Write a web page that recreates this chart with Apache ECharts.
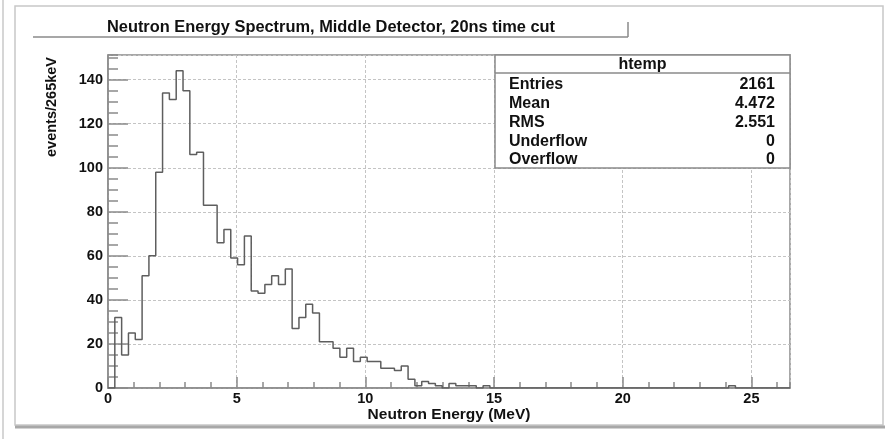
<!DOCTYPE html>
<html>
<head>
<meta charset="utf-8">
<script src="https://cdn.jsdelivr.net/npm/echarts@6/dist/echarts.min.js"></script>
<style>
html,body{margin:0;padding:0;background:#fff;}
#chart{width:887px;height:439px;}
</style>
</head>
<body>
<div id="chart"></div>
<script>
// ---- data ----
const chartTitle = 'Neutron Energy Spectrum, Middle Detector, 20ns time cut';
const xTitle = 'Neutron Energy (MeV)';
const yTitle = 'events/265keV';
const binWidth = 0.265;        // MeV per bin
const xMin = 0, xMax = 26.5;
const yMin = 0, yMax = 151.2;
const counts = [
  0, 32, 15, 25, 22, 51, 60, 98, 134, 131,
  144, 135, 106, 107, 83, 83, 66, 72, 59, 56,
  69, 44, 43, 47, 51, 47, 54, 27, 32, 38,
  34, 21, 21, 18, 14, 18, 12, 14, 12, 12,
  9, 9, 8, 10, 4, 1, 3, 2, 1, 0,
  2, 1, 1, 1, 0, 1, 0, 0, 0, 0,
  0, 0, 0, 0, 0, 0, 0, 0, 0, 0,
  0, 0, 0, 0, 0, 0, 0, 0, 0, 0,
  0, 0, 0, 0, 0, 0, 0, 0, 0, 0,
  0, 1, 0, 0, 0, 0, 0, 0, 0, 0
];
const statsName = 'htemp';
const statsLabels = ['Entries', 'Mean', 'RMS', 'Underflow', 'Overflow'];
const statsValues = ['2161', '4.472', '2.551', '0', '0'];

// ---- build step outline from bin edges ----
const stepData = counts.map((c, i) => [i * binWidth, c]);
stepData.push([counts.length * binWidth, counts[counts.length - 1]]);

const FONT = '"Liberation Sans", Arial, Helvetica, sans-serif';
const axisGray = '#8a8a8a';
const gridGray = '#c4c4c4';

const chart = echarts.init(document.getElementById('chart'), null, {renderer: 'canvas'});

// stats box graphics
const boxL = 495, boxR = 790, boxT = 55, boxB = 168, divY = 73;
const statsGraphics = [
  {type: 'rect', shape: {x: boxL, y: boxT, width: boxR - boxL, height: boxB - boxT},
   style: {fill: '#fff', stroke: '#8a8a8a', lineWidth: 1.5}, z: 100},
  {type: 'line', shape: {x1: boxL, y1: divY, x2: boxR, y2: divY},
   style: {stroke: '#8a8a8a', lineWidth: 1.5}, z: 101},
  {type: 'text', x: (boxL + boxR) / 2, y: 64.5, z: 102,
   style: {text: statsName, font: 'bold 16px ' + FONT, fill: '#111', align: 'center', verticalAlign: 'middle'}}
];
statsLabels.forEach((lab, i) => {
  const y = 85 + i * 18.7;
  statsGraphics.push({type: 'text', x: 509, y: y, z: 102,
    style: {text: lab, font: 'bold 16px ' + FONT, fill: '#111', align: 'left', verticalAlign: 'middle'}});
  statsGraphics.push({type: 'text', x: 775, y: y, z: 102,
    style: {text: statsValues[i], font: 'bold 16px ' + FONT, fill: '#111', align: 'right', verticalAlign: 'middle'}});
});

const option = {
  backgroundColor: '#fff',
  animation: false,
  grid: {left: 108, right: 97, top: 55, bottom: 51, show: true, borderColor: axisGray, borderWidth: 1.5, backgroundColor: 'transparent'},
  xAxis: [
    {
      type: 'value', min: xMin, max: xMax, interval: 5, position: 'bottom',
      axisLine: {show: true, lineStyle: {color: axisGray, width: 1.5}},
      axisTick: {show: true, inside: true, length: 11, lineStyle: {color: axisGray, width: 1.5}},
      axisLabel: {show: true, showMaxLabel: false, margin: 3, fontFamily: FONT, fontWeight: 'bold', fontSize: 14.5, color: '#111'},
      splitLine: {show: true, lineStyle: {color: gridGray, width: 1, type: [3, 2]}}
    },
    {
      type: 'value', min: xMin, max: xMax, interval: 1, position: 'bottom', offset: 0,
      axisLine: {show: false},
      axisTick: {show: true, inside: true, length: 6, lineStyle: {color: axisGray, width: 1.5}},
      axisLabel: {show: false},
      splitLine: {show: false}
    }
  ],
  yAxis: [
    {
      type: 'value', min: yMin, max: yMax, interval: 20, position: 'left',
      axisLine: {show: true, lineStyle: {color: axisGray, width: 1.5}},
      axisTick: {show: true, inside: true, length: 20, lineStyle: {color: axisGray, width: 1.5}},
      axisLabel: {show: true, showMaxLabel: false, margin: 5, fontFamily: FONT, fontWeight: 'bold', fontSize: 14.5, color: '#111'},
      splitLine: {show: true, lineStyle: {color: gridGray, width: 1, type: [3, 2]}}
    },
    {
      type: 'value', min: yMin, max: yMax, interval: 5, position: 'left', offset: 0,
      axisLine: {show: false},
      axisTick: {show: true, inside: true, length: 10, lineStyle: {color: axisGray, width: 1.5}},
      axisLabel: {show: false},
      splitLine: {show: false}
    }
  ],
  series: [{
    type: 'line', xAxisIndex: 0, yAxisIndex: 0,
    data: stepData, step: 'end', showSymbol: false, symbol: 'none',
    lineStyle: {color: '#5e5e5e', width: 1.5}, z: 5
  }],
  graphic: [
    // outer canvas frame
    {type: 'rect', shape: {x: 15, y: 6, width: 868, height: 419}, style: {fill: 'none', stroke: '#c8c8c8', lineWidth: 1.5}, z: -10},
    {type: 'line', shape: {x1: 3, y1: 0, x2: 3, y2: 439}, style: {stroke: '#c8c8c8', lineWidth: 1.5}, z: -10},
    {type: 'line', shape: {x1: 15, y1: 427, x2: 885, y2: 427}, style: {stroke: '#a8a8a8', lineWidth: 3}, z: -10},
    // title pave
    {type: 'line', shape: {x1: 33, y1: 37, x2: 628, y2: 37}, style: {stroke: '#8a8a8a', lineWidth: 1.5}, z: 50},
    {type: 'line', shape: {x1: 628, y1: 22, x2: 628, y2: 37}, style: {stroke: '#8a8a8a', lineWidth: 1.5}, z: 50},
    {type: 'text', x: 331, y: 27.5, z: 51,
     style: {text: chartTitle, font: 'bold 16.4px ' + FONT, fill: '#111', align: 'center', verticalAlign: 'middle'}},
    // x axis title
    {type: 'text', x: 449, y: 414.5, z: 51,
     style: {text: xTitle, font: 'bold 15.5px ' + FONT, fill: '#111', align: 'center', verticalAlign: 'middle'}},
    // y axis title
    {type: 'text', x: 52, y: 57, rotation: Math.PI / 2, z: 51,
     style: {text: yTitle, font: 'bold 14.5px ' + FONT, fill: '#111', align: 'right', verticalAlign: 'middle'}}
  ].concat(statsGraphics)
};
chart.setOption(option);
</script>
</body>
</html>
